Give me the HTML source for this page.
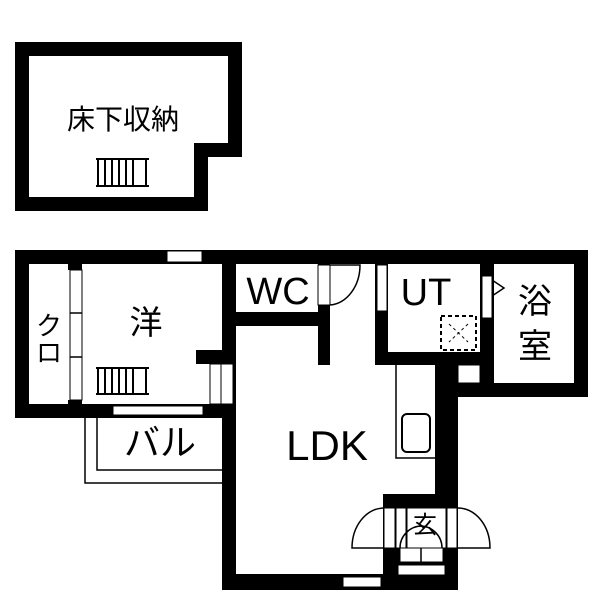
<!DOCTYPE html>
<html><head><meta charset="utf-8"><style>
body{margin:0;background:#fff}
text{font-family:"Liberation Sans","Noto Sans CJK JP",sans-serif;fill:#000}
</style></head><body>
<svg width="600" height="600" viewBox="0 0 600 600" xmlns="http://www.w3.org/2000/svg">
<path d="M15 42H242V157H208V211H15Z M29 56V197H194V143H228V56Z" fill="#000" fill-rule="evenodd"/>
<text x="123" y="129" font-size="28" text-anchor="middle">床下収納</text>
<g stroke="#000" stroke-width="2" fill="none">
<path d="M96 159H149 M96 186H149 M98 159V186 M105 159V186 M112 159V186 M119 159V186 M126 159V186 M133 159V186 M146 159V186"/>
</g>
<g fill="#000">
<rect x="15" y="250" width="573" height="14"/>
<rect x="15" y="250" width="14" height="168"/>
<rect x="15" y="404" width="221" height="14"/>
<rect x="68" y="264" width="14" height="6"/>
<rect x="68" y="400" width="14" height="4"/>
<rect x="222" y="250" width="14" height="340"/>
<rect x="196" y="350" width="40" height="14"/>
<rect x="222" y="312" width="108" height="14"/>
<rect x="318" y="264" width="12" height="101"/>
<rect x="375" y="264" width="13" height="101"/>
<rect x="375" y="352" width="119" height="13"/>
<rect x="480" y="250" width="14" height="147"/>
<rect x="574" y="250" width="14" height="147"/>
<rect x="435" y="383" width="153" height="14"/>
<rect x="435" y="352" width="23" height="142"/>
<rect x="222" y="574" width="236" height="16"/>
<rect x="383" y="494" width="75" height="96"/>
</g>
<g fill="#fff" stroke="#000" stroke-width="1">
<rect x="167" y="251" width="35" height="11"/>
<rect x="113" y="406" width="90" height="9"/>
<rect x="70" y="270" width="12" height="130"/>
<rect x="210" y="364" width="11" height="40"/>
<rect x="221" y="364" width="12" height="40"/>
<rect x="318" y="265" width="12" height="40"/>
<rect x="377" y="265" width="10" height="46"/>
<rect x="482" y="276" width="10" height="42"/>
<rect x="458" y="365" width="22" height="18"/>
<rect x="343" y="577" width="38" height="10"/>
<rect x="384" y="508" width="11" height="40"/>
<rect x="396" y="508" width="10" height="40"/>
<rect x="407" y="508" width="39" height="40"/>
<rect x="447" y="508" width="10" height="40"/>
<rect x="400" y="548" width="43" height="14"/>
<rect x="398" y="565" width="47" height="10"/>
</g>
<g stroke="#000" stroke-width="1.5" fill="none">
<path d="M70 313H82 M70 357H82"/>
<path d="M421 548V562"/>
<path d="M330 265H360A32 40 0 0 1 330 305"/>
<path d="M384 508A32 40 0 0 0 352 548H384"/>
<path d="M457 508A32 40 0 0 1 490 548H457"/>
<path d="M400 548A22 22 0 0 1 422 526 M442 548A22 22 0 0 0 420 526"/>
<path d="M492 280L504 288L492 296"/>
<path d="M85 418V483H222 M97 418V470H222"/>
<path d="M396 365V458H435"/>
<rect x="402" y="414" width="28" height="38" rx="5" stroke-width="2"/>
<rect x="441" y="316" width="35" height="34" stroke-dasharray="4,3" stroke-width="2"/>
<path d="M449 324L468 342 M468 324L449 342" stroke-dasharray="3,3" stroke-width="1"/>
<path d="M96 368H149 M96 394H149 M98 368V394 M105 368V394 M112 368V394 M119 368V394 M126 368V394 M133 368V394 M146 368V394" stroke-width="2"/>
</g>
<text x="278" y="304" font-size="38" text-anchor="middle">WC</text>
<text x="426" y="305" font-size="38" text-anchor="middle">UT</text>
<text x="535" y="313" font-size="34" text-anchor="middle">浴</text>
<text x="535" y="358" font-size="34" text-anchor="middle">室</text>
<text x="146" y="334" font-size="33" text-anchor="middle">洋</text>
<text x="49" y="335" font-size="26" text-anchor="middle">ク</text>
<text x="49" y="362" font-size="26" text-anchor="middle">ロ</text>
<text x="160" y="455" font-size="36" text-anchor="middle">バル</text>
<text x="327" y="460" font-size="42" text-anchor="middle">LDK</text>
<text x="425" y="533" font-size="24" text-anchor="middle">玄</text>
</svg>
</body></html>
